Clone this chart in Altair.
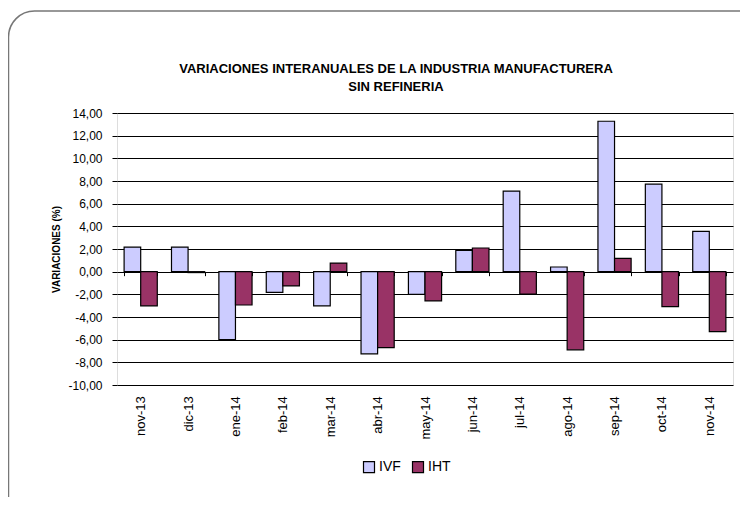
import altair as alt
import pandas as pd

months = ["nov-13", "dic-13", "ene-14", "feb-14", "mar-14", "abr-14", "may-14",
          "jun-14", "jul-14", "ago-14", "sep-14", "oct-14", "nov-14"]
ivf = [2.17, 2.17, -5.99, -1.82, -3.02, -7.25, -2.00, 1.88, 7.11, 0.41, 13.27, 7.72, 3.55]
iht = [-3.02, -0.08, -2.94, -1.26, 0.76, -6.70, -2.58, 2.09, -1.97, -6.90, 1.17, -3.08, -5.29]
series = ["IVF", "IHT"]
colors = ["#CCCCFF", "#993366"]
y_ticks = [-10, -8, -6, -4, -2, 0, 2, 4, 6, 8, 10, 12, 14]
title_lines = ["VARIACIONES INTERANUALES DE LA INDUSTRIA MANUFACTURERA", "SIN REFINERIA"]

rows = []
for m, a, b in zip(months, ivf, iht):
    rows.append({"mes": m, "serie": "IVF", "valor": a})
    rows.append({"mes": m, "serie": "IHT", "valor": b})
df = pd.DataFrame(rows)

FONT = "Liberation Sans"
W, H = 616, 272
zero_y = H * 14 / 24

bars = alt.Chart(df).mark_bar(stroke="black", strokeWidth=1.2).encode(
    x=alt.X("mes:N", sort=months, title=None,
            scale=alt.Scale(paddingInner=0.3, paddingOuter=0.15),
            axis=alt.Axis(orient="bottom", offset=zero_y - H, tickBand="extent",
                          tickSize=4, tickColor="black", domain=False,
                          labelAngle=-90, labelAlign="right", labelBaseline="middle",
                          labelPadding=120, labelFontSize=13, labelColor="black",
                          labelFont=FONT, grid=False)),
    xOffset=alt.XOffset("serie:N", sort=series, scale=alt.Scale(paddingInner=0, paddingOuter=0)),
    y=alt.Y("valor:Q", title="VARIACIONES (%)",
            scale=alt.Scale(domain=[-10, 14], nice=False),
            axis=alt.Axis(values=y_ticks, domain=False, tickSize=5, tickColor="black",
                          labelPadding=10, labelFontSize=12, labelColor="black", labelFont=FONT,
                          labelExpr="(datum.value < 0 ? '-' : '') + replace(format(abs(datum.value), '.2f'), '.', ',')",
                          grid=True, gridColor="black", gridWidth=1, gridOpacity=1,
                          titleFont=FONT, titleFontSize=10, titleFontWeight="bold",
                          titleColor="black", titlePadding=6)),
    color=alt.Color("serie:N", sort=series,
                    scale=alt.Scale(domain=series, range=colors),
                    legend=alt.Legend(title=None, orient="none", direction="horizontal",
                                      legendX=245, legendY=347, symbolType="square",
                                      symbolSize=121, symbolStrokeColor="black",
                                      symbolStrokeWidth=1.2, labelFontSize=14,
                                      labelFont=FONT, labelColor="black", labelOffset=3,
                                      columnPadding=9, padding=0)),
)

frame = alt.Chart(pd.DataFrame({"k": [0]})).mark_rect(
    fill="transparent", stroke="#777777", strokeWidth=1.5, cornerRadius=26
).encode(
    x=alt.value(-108.5), x2=alt.value(650), y=alt.value(-102), y2=alt.value(410)
)

title1 = alt.Chart(pd.DataFrame({"k": [0]})).mark_text(
    text=title_lines[0], font=FONT, fontSize=13, fontWeight="bold", color="black",
    align="center", baseline="alphabetic"
).encode(x=alt.value(279), y=alt.value(-40.5))

title2 = alt.Chart(pd.DataFrame({"k": [0]})).mark_text(
    text=title_lines[1], font=FONT, fontSize=13, fontWeight="bold", color="black",
    align="center", baseline="alphabetic"
).encode(x=alt.value(279), y=alt.value(-22.5))

chart = alt.layer(frame, title1, title2, bars).properties(
    width=W, height=H,
    autosize=alt.AutoSizeParams(type="none"),
    padding={"left": 109, "top": 105, "right": 7, "bottom": 112},
).configure_view(stroke="black", strokeWidth=1).configure(background="white")

chart.save("out.html", embed_options={"renderer": "svg", "actions": False})
